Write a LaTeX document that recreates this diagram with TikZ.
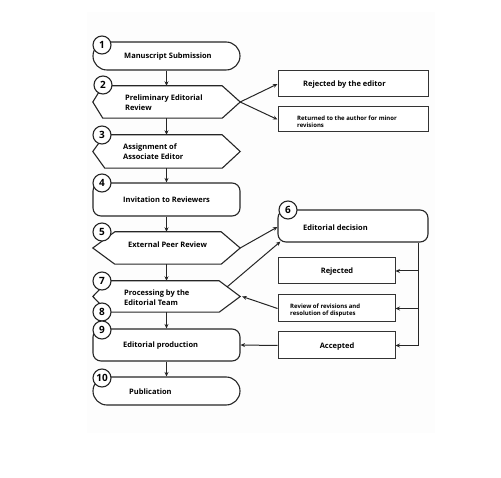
\documentclass[tikz,border=0pt]{standalone}
\usepackage{fontspec}
\setmainfont{Open Sans}
\usetikzlibrary{arrows.meta,calc}
\tikzset{
  outl/.style={draw=black!85, line width=1.1pt, fill=white, inner sep=0pt},
  ghost/.style={draw=none, inner sep=0pt, minimum width=147pt},
  num/.style={circle, draw=black!85, line width=1.1pt, fill=white, minimum size=18pt, inner sep=0pt, font=\fontsize{10}{10}\selectfont\bfseries},
  lbl/.style={anchor=west, align=left, inner sep=0pt, font=\fontsize{7.5}{10}\selectfont\bfseries},
  clbl/.style={align=center, inner sep=0pt, font=\fontsize{7.5}{10}\selectfont\bfseries},
  small/.style={anchor=west, align=left, inner sep=0pt, font=\fontsize{6}{7.5}\selectfont\bfseries},
  box/.style={draw=black!80, line width=1pt, fill=white, inner sep=0pt},
  arr/.style={-{Stealth[length=4.5pt,width=4pt]}, line width=1pt, draw=black!85},
}
\newcommand\hexshape[3]{\draw[outl] (#1.west) -- ($(#1.north west)+(#2,0)$) -- ($(#1.north east)+(-#3,0)$) -- (#1.east) -- ($(#1.south east)+(-#3,0)$) -- ($(#1.south west)+(#2,0)$) -- cycle;}
\begin{document}
\begin{tikzpicture}[x=1pt,y=-1pt]
\useasboundingbox (0,0) rectangle (501,478);
\fill[gray!1.5] (87,12) rectangle (435,433);
% main column shapes
\node[outl, minimum width=147pt, minimum height=28pt, rounded corners=14pt] (n1) at (166.5,56) {};
\node[ghost, minimum height=32pt] (n2) at (166.5,102) {};
\hexshape{n2}{10}{18}
\node[ghost, minimum height=33pt] (n3) at (166.5,151.5) {};
\hexshape{n3}{12}{18}
\node[outl, minimum width=147pt, minimum height=33pt, rounded corners=8pt] (n4) at (166.5,199.5) {};
\node[ghost, minimum height=32pt] (n5) at (166.5,248) {};
\hexshape{n5}{22}{19}
\node[ghost, minimum height=31pt] (n7) at (166.5,296.5) {};
\hexshape{n7}{15}{21}
\node[outl, minimum width=147pt, minimum height=32pt, rounded corners=8pt] (n9) at (166.5,345) {};
\node[outl, minimum width=147pt, minimum height=28pt, rounded corners=14pt] (n10) at (166.5,391) {};
% right column shapes
\node[box, minimum width=150pt, minimum height=26pt] (r1) at (353,84) {};
\node[box, minimum width=150pt, minimum height=25pt] (r2) at (353,119.5) {};
\node[outl, minimum width=150pt, minimum height=32pt, rounded corners=8pt] (n6) at (353,226) {};
\node[box, minimum width=117pt, minimum height=26pt] (rj) at (336.5,271) {};
\node[box, minimum width=117pt, minimum height=27pt] (rv) at (336.5,308.5) {};
\node[box, minimum width=117pt, minimum height=27pt] (ac) at (336.5,345.5) {};
% texts
\node[lbl] (t1) at (124,56.5) {Manuscript Submission};
\node[lbl] (t2) at (125,103) {Preliminary Editorial\\Review};
\node[lbl] (t3) at (123,151.5) {Assignment of\\Associate Editor};
\node[lbl] (t4) at (123,199.5) {Invitation to Reviewers};
\node[lbl] (t5) at (128,244.5) {External Peer Review};
\node[lbl] (t7) at (124,297.5) {Processing by the\\Editorial Team};
\node[lbl] (t9) at (123,345.5) {Editorial production};
\node[lbl] (t10) at (129,391.5) {Publication};
\node[lbl] (tr1) at (303,84.5) {Rejected by the editor};
\node[small] (tr2) at (297,121.5) {Returned to the author for minor\\revisions};
\node[lbl] (t6) at (303,227.5) {Editorial decision};
\node[clbl] (trj) at (337,271.5) {Rejected};
\node[small] (trv) at (290,310.5) {Review of revisions and\\resolution of disputes};
\node[clbl] (tac) at (337,346.5) {Accepted};
% number circles
\node[num] (c1) at (102,45) {1};
\node[num] (c2) at (103,85) {2};
\node[num] (c3) at (102,135) {3};
\node[num] (c4) at (102,183) {4};
\node[num] (c5) at (102,232) {5};
\node[num] (c6) at (288,210) {6};
\node[num] (c7) at (102,281) {7};
\node[num] (c8) at (102,312) {8};
\node[num] (c9) at (102,330) {9};
\node[num] (c10) at (102,378) {10};
% connectors
\draw[arr] (n1.south) -- (n2.north);
\draw[arr] (n2.south) -- (n3.north);
\draw[arr] (n3.south) -- (n4.north);
\draw[arr] (n4.south) -- (n5.north);
\draw[arr] (n5.south) -- (n7.north);
\draw[arr] (n7.south) -- (n9.north);
\draw[arr] (n9.south) -- (n10.north);
\draw[arr] (n2.east) -- (r1.west);
\draw[arr] (n2.east) -- (r2.west);
\draw[arr] (n5.east) -- ($(n6.west)+(0,1)$);
\coordinate (p7) at (227,287);
\draw[arr] (p7) -- ($(n6.south west)+(3,-1)$);
\draw[arr] (rv.west) -- ($(n7.east)+(2,0)$);
\draw[arr] (ac.west) -- (n9.east);
\coordinate (b1) at ($(n6.south east)+(-10,0)$);
\coordinate (b2) at (b1 |- ac.east);
\draw[line width=1pt, draw=black!85] (b1) -- (b2);
\draw[arr] (b1 |- rj.east) -- (rj.east);
\draw[arr] (b1 |- rv.east) -- (rv.east);
\draw[arr] (b2) -- (ac.east);
\end{tikzpicture}
\end{document}
